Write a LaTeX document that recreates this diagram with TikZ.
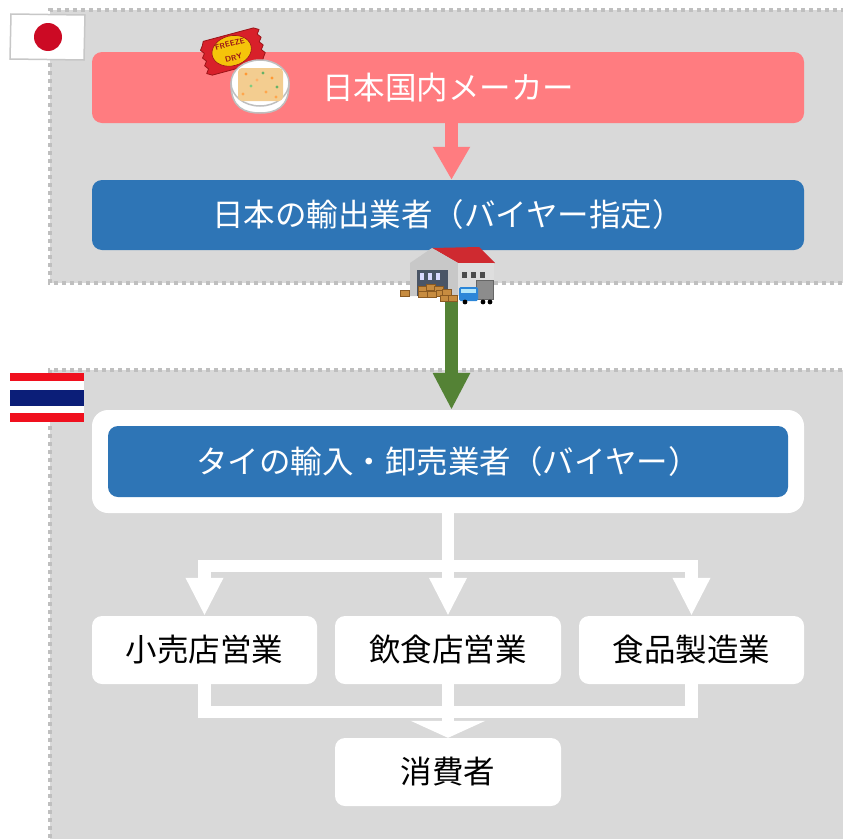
\documentclass[tikz,border=0pt]{standalone}
\usepackage{fontspec}
\newfontfamily\jpfont{Noto Sans CJK JP}
\usetikzlibrary{arrows.meta}
\definecolor{panelgray}{HTML}{D9D9D9}
\definecolor{dotgray}{HTML}{BFBFBF}
\definecolor{makerpink}{HTML}{FF7C80}
\definecolor{tradeblue}{HTML}{2E75B6}
\definecolor{shipgreen}{HTML}{548235}
\definecolor{jpred}{HTML}{CC0A24}
\definecolor{thred}{HTML}{F0101E}
\definecolor{thblue}{HTML}{0B1E78}
\definecolor{packred}{HTML}{D8202A}
\definecolor{packdark}{HTML}{9A1418}
\definecolor{labelyellow}{HTML}{F5C40A}
\definecolor{foodbeige}{HTML}{F3CD90}
\definecolor{roofred}{HTML}{CF2A30}
\definecolor{wallgray}{HTML}{C8C8C8}
\definecolor{sidegray}{HTML}{DEDEDE}
\definecolor{doordark}{HTML}{4A5566}
\definecolor{boxbrown}{HTML}{C78C40}
\definecolor{boxedge}{HTML}{8A5A22}
\definecolor{cabblue}{HTML}{2C86D8}
\begin{document}
\begin{tikzpicture}[x=1pt,y=-1pt,
  dotedge/.style={draw=dotgray,line width=4pt,dash pattern=on 4pt off 4pt},
  jptext/.style={font=\jpfont\fontsize{31.5}{36}\selectfont},
  bar/.style={jptext,rounded corners=10pt,minimum width=712pt,minimum height=71pt,
    text=white,inner sep=0pt},
  endbox/.style={jptext,rounded corners=10pt,fill=white,text=black,
    minimum width=226pt,minimum height=68pt,inner sep=0pt},
  flow/.style={draw=white,line width=12.5pt},
  bigarrow/.style={line width=13pt,-{Triangle[width=35pt,length=35pt]}},
  packtext/.style={transform shape,text=packdark,inner sep=0pt,
    font=\sffamily\bfseries\fontsize{7.8}{9}\selectfont}
]
\useasboundingbox (0,0) rectangle (843,838);

% --- country panels ---
\fill[panelgray] (50,10) rectangle (850,283);
\fill[panelgray] (50,370) rectangle (850,850);
\draw[dotedge] (850,283) -- (50,283) -- (50,10) -- (850,10);
\draw[dotedge] (850,370) -- (50,370) -- (50,850);

% --- flags ---
\draw[fill=white,draw=black!22,line width=1.5pt] (11,14) -- (85,15) -- (84,60) -- (10,59) -- cycle;
\fill[jpred] (48,37) circle (14);
\fill[white] (10,373) rectangle (84,422);
\fill[thred] (10,373) rectangle (84,381);
\fill[thblue] (10,390) rectangle (84,406);
\fill[thred] (10,413) rectangle (84,422);

% --- main boxes ---
\node[bar,fill=makerpink] (maker) at (448,87.5) {日本国内メーカー};
\node[bar,fill=tradeblue,minimum height=70pt] (exporter) at (448,215) {日本の輸出業者（バイヤー指定）};
\node[fill=white,rounded corners=16pt,minimum width=712pt,minimum height=103pt,inner sep=0pt] (wrap) at (448,461.5) {};
\node[bar,fill=tradeblue,minimum width=680pt] (importer) at (448,461.5) {タイの輸入・卸売業者（バイヤー）};

\node[endbox,minimum width=225pt] (retail) at (204.5,650) {小売店営業};
\node[endbox] (dining) at (448,650) {飲食店営業};
\node[endbox,minimum width=225pt] (foodmfg) at (691.5,650) {食品製造業};
\node[endbox] (consumer) at (448,772) {消費者};

% --- arrows between the panels ---
\draw[makerpink,bigarrow,-{Triangle[width=35pt,length=33pt]}]
  ([xshift=3.5pt]maker.south) -- ([xshift=3.5pt]exporter.north);
\coordinate (depot) at (451.5,296);
\draw[shipgreen,bigarrow,-{Triangle[width=35pt,length=37pt]}]
  (depot) -- ([xshift=3.5pt]wrap.north);

% --- distribution inside Thailand ---
\coordinate (split) at (448,566);
\draw[flow] (wrap.south) -- (split);
\draw[flow,line cap=rect] (split -| retail.north) -- (split -| foodmfg.north);
\foreach \t in {retail,dining,foodmfg}
  \draw[flow,-{Triangle[width=35pt,length=38pt]}] (split -| \t.north) -- (\t.north);

\coordinate (merge) at (448,712);
\draw[flow,line cap=rect,line join=miter]
  (retail.south) -- (retail.south |- merge) -- (foodmfg.south |- merge) -- (foodmfg.south);
\draw[flow] (dining.south) -- (merge);
\draw[flow,-{Triangle[width=74pt,length=17pt]}] (merge) -- (consumer.north);

% --- freeze-dried food pack ---
\begin{scope}[shift={(233,52)},rotate=15]
  \draw[fill=packred,draw=packdark,line width=0.8pt,line join=round]
    (-26,-18) -- (26,-18) -- (31,-15) -- (28,-11) -- (31,-7) -- (28,-3) -- (31,1)
    -- (28,5) -- (31,9) -- (28,13) -- (26,17) -- (-26,17) -- (-31,14) -- (-28,10)
    -- (-31,6) -- (-28,2) -- (-31,-2) -- (-28,-6) -- (-31,-10) -- (-28,-14) -- cycle;
  \draw[fill=labelyellow,draw=packdark,line width=0.6pt] (-1,-1.5) ellipse (20 and 15);
  \node[packtext] (packtop) at (-1,-8.5) {FREEZE};
  \node[packtext] (packbottom) at (-1,6) {DRY};
\end{scope}
% bowl of soup
\draw[fill=white,draw=black!25,line width=1.5pt]
  (231,84) .. controls (231,108) and (245,113) .. (260,113)
  .. controls (275,113) and (289,108) .. (289,84) -- cycle;
\draw[fill=white,draw=black!25,line width=1.5pt] (260,83) ellipse (29 and 23);
\fill[foodbeige,rounded corners=4pt] (238,68) rectangle (283,101);
\foreach \p/\c in {{246,74}/orange!80,{263,73}/green!50!black!60,{272,78}/orange!80,
  {251,86}/green!60!black!50,{266,92}/orange!70,{277,87}/green!50!black!60,
  {243,94}/orange!70,{257,80}/orange!60,{276,97}/orange!70}
  \fill[\c] (\p) circle (1.7);

% --- warehouse with truck ---
\fill[roofred] (432,248) -- (479,247) -- (495,263) -- (458,263) -- cycle;
\fill[wallgray] (410,296) -- (410,263) -- (432,248) -- (458,263) -- (458,296) -- cycle;
\fill[sidegray] (458,263) rectangle (494,296);
\fill[doordark] (417,270) rectangle (448,296);
\foreach \wx in {420,428,436}
  \fill[white!85!blue] (\wx,273) rectangle ++(4,7);
\foreach \wx in {462,471,480}
  \fill[black!70] (\wx,272) rectangle ++(5,6);
\foreach \bx/\by in {418/286,426/284,434/286,418/291,427/291,436/290,400/290,440/295,448/295,442/289}
  \draw[fill=boxbrown,draw=boxedge,line width=0.5pt] (\bx,\by) rectangle ++(9,6);
\draw[fill=black!45,draw=black!60,line width=0.5pt] (476,280) rectangle (493,299);
\fill[cabblue,rounded corners=1.5pt] (459,287) rectangle (478,301);
\fill[white!70!cyan] (461,289) rectangle (476,293);
\foreach \wx in {465,483,490}
  \fill[black] (\wx,302) circle (2.4);
\end{tikzpicture}
\end{document}
